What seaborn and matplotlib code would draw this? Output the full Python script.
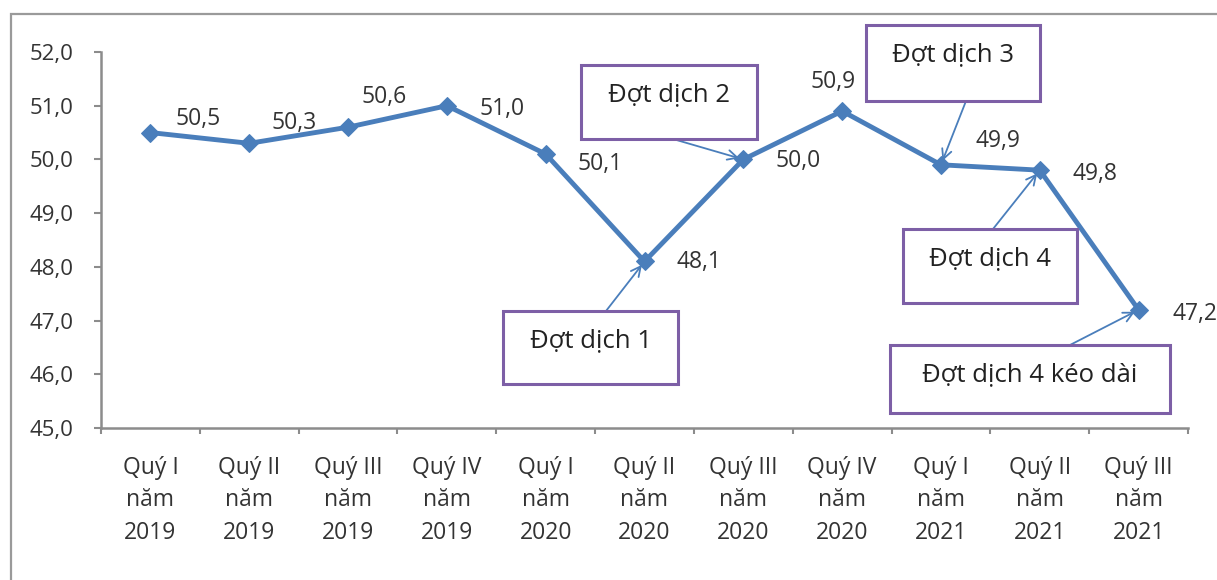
import numpy as np
import pandas as pd
import matplotlib
matplotlib.use("Agg")
import matplotlib.pyplot as plt
from matplotlib.patches import Rectangle
from matplotlib.ticker import FuncFormatter
import seaborn as sns

# ---- data ----
quarters = ["Quý I", "Quý II", "Quý III", "Quý IV", "Quý I", "Quý II",
            "Quý III", "Quý IV", "Quý I", "Quý II", "Quý III"]
years = ["2019", "2019", "2019", "2019", "2020", "2020",
         "2020", "2020", "2021", "2021", "2021"]
values = [50.5, 50.3, 50.6, 51.0, 50.1, 48.1, 50.0, 50.9, 49.9, 49.8, 47.2]
events = ["Đợt dịch 1", "Đợt dịch 2", "Đợt dịch 3", "Đợt dịch 4", "Đợt dịch 4 kéo dài"]
event_idx = [5, 6, 8, 9, 10]

# ---- style ----
sns.set_style("white")
plt.rcParams["font.family"] = ["Open Sans", "DejaVu Sans"]
TXT = "#333333"
BLUE = "#4a7ebb"
GRAY = "#8c8c8c"
PURPLE = "#7d5fa6"

W, H = 1217, 580
fig = plt.figure(figsize=(W / 100, H / 100), dpi=100)
ax = fig.add_axes([101 / W, 1 - 428 / H, (1188 - 101) / W, (428 - 52) / H])

labels = [f"{q}\nnăm\n{y}" for q, y in zip(quarters, years)]
xpos = np.arange(len(values))
df = pd.DataFrame({"x": xpos, "v": values})
sns.lineplot(data=df, x="x", y="v", ax=ax, color=BLUE, lw=3.5, marker="D",
             markersize=9, markeredgecolor=BLUE, zorder=3)

ax.set_xlim(-0.5, len(values) - 0.5)
ax.set_ylim(45, 52)
ax.set_yticks(np.arange(45, 52.01, 1.0))
ax.yaxis.set_major_formatter(FuncFormatter(lambda v, p: f"{v:.1f}".replace(".", ",")))
ax.set_xticks(xpos)
ax.set_xticklabels(labels, linespacing=1.48)
ax.set_xticks(np.arange(-0.5, len(values), 1), minor=True)
ax.set_xlabel("")
ax.set_ylabel("")

for s in ["top", "right"]:
    ax.spines[s].set_visible(False)
for s in ["left", "bottom"]:
    ax.spines[s].set_color(GRAY)
    ax.spines[s].set_linewidth(1.8)

ax.tick_params(axis="y", direction="out", length=5, width=1.5, color=GRAY,
               labelsize=16, labelcolor=TXT, pad=15, left=True)
ax.tick_params(axis="x", which="major", length=0, labelsize=16.5, labelcolor=TXT, pad=20)
ax.tick_params(axis="x", which="minor", direction="out", length=4, width=1.5,
               color=GRAY, bottom=True)

# data labels (offsets in pixels)
offsets = [(48, 14), (45, 20), (36, 30), (55, -3), (54, -10), (54, -1),
           (55, -2), (-9, 29), (57, 24), (55, -4), (56, -4)]
for i, (v, off) in enumerate(zip(values, offsets)):
    ax.annotate(f"{v:.1f}".replace(".", ","), xy=(i, v), xytext=off,
                textcoords="offset pixels", ha="center", va="center",
                fontsize=16.5, color=TXT, zorder=5)

# event boxes (pixel layout: x0, y0, x1, y1 from top-left) and arrow start points
boxes = [(503, 311, 678, 384), (581, 65, 757, 139), (866, 25, 1040, 101),
         (903, 229, 1077, 303), (890, 345, 1170, 413)]
starts = [(606, 311), (673, 139), (966, 101), (993, 229), (1070, 345)]
for text, idx, (x0, y0, x1, y1), (sx, sy) in zip(events, event_idx, boxes, starts):
    fig.add_artist(Rectangle((x0 / W, 1 - y1 / H), (x1 - x0) / W, (y1 - y0) / H,
                             transform=fig.transFigure, facecolor="white",
                             edgecolor=PURPLE, lw=2.2, zorder=4))
    fig.text((x0 + x1) / 2 / W, 1 - (y0 + 30) / H, text, ha="center", va="center",
             fontsize=18.5, color="#222222", zorder=5)
    ax.annotate("", xy=(idx, values[idx]), xytext=(sx, H - sy),
                textcoords="figure pixels",
                arrowprops=dict(arrowstyle="->,head_length=0.7,head_width=0.35",
                                color=BLUE, lw=1.3, shrinkA=0, shrinkB=3),
                zorder=4)

# outer frame
fig.add_artist(Rectangle((11 / W, -0.1), 1.0, (H - 14) / H + 0.1,
                         transform=fig.transFigure, fill=False,
                         edgecolor="#9a9a9a", lw=1.6, zorder=0))

fig.savefig("out.png", dpi=100)
